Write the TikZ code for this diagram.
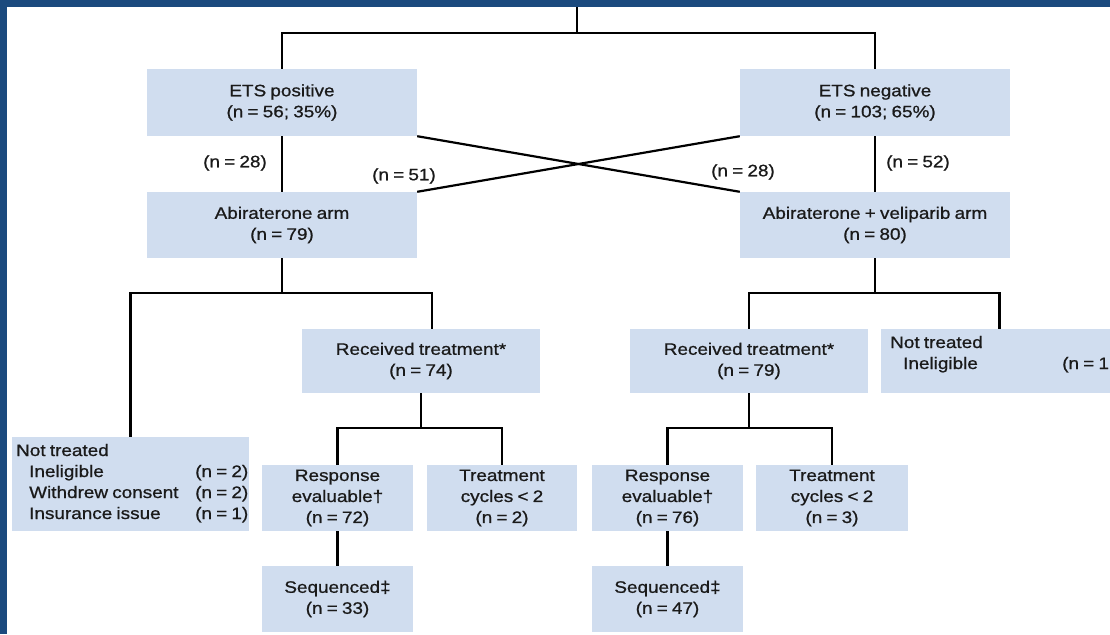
\documentclass[tikz,border=0pt]{standalone}
\usepackage{fontspec}
\setmainfont{Liberation Sans}[FakeStretch=1.14,WordSpace=0.8,FakeBold=0.8]
\definecolor{frameblue}{HTML}{1B4A7E}
\definecolor{boxblue}{HTML}{D0DDEF}
\definecolor{ink}{HTML}{1A1A1A}
\newcommand\fs{\fontsize{16.6}{21}\selectfont}
\newcommand\bx[6]{\node[box, minimum width={#4-#2}, minimum height={#5-#3}] (#1) at ({(#2+#4)/2},{(#3+#5)/2}) {#6};}
\begin{document}
\begin{tikzpicture}[x=1pt,y=-1pt,
  box/.style={fill=boxblue, inner sep=0pt, align=center, font=\fs, text=ink},
  ln/.style={line width=2.8pt, draw=black},
  lab/.style={font=\fs, inner sep=0pt, text=ink}]
\clip (0,0) rectangle (1110,634);
\fill[white] (0,0) rectangle (1110,634);
% boxes
\bx{etspos}{147}{69}{417}{136}{ETS positive\\(n = 56; 35\%)}
\bx{etsneg}{740}{69}{1010}{136}{ETS negative\\(n = 103; 65\%)}
\bx{abi}{147}{192}{417}{258}{Abiraterone arm\\(n = 79)}
\bx{abivel}{740}{192}{1010}{258}{Abiraterone + veliparib arm\\(n = 80)}
\bx{recL}{302}{329}{540}{393}{Received treatment*\\(n = 74)}
\bx{recR}{630}{329}{868}{393}{Received treatment*\\(n = 79)}
\bx{notR}{881}{329}{1120}{393}{}
\bx{notL}{12}{437}{249}{531}{}
\bx{respL}{262}{465}{413}{531}{Response\\evaluable†\\(n = 72)}
\bx{cycL}{427}{465}{577}{531}{Treatment\\cycles < 2\\(n = 2)}
\bx{seqL}{262}{566}{413}{632}{Sequenced‡\\(n = 33)}
\bx{respR}{592}{465}{743}{531}{Response\\evaluable†\\(n = 76)}
\bx{cycR}{756}{465}{908}{531}{Treatment\\cycles < 2\\(n = 3)}
\bx{seqR}{592}{566}{743}{632}{Sequenced‡\\(n = 47)}
% texts in Not treated boxes
\node[lab, anchor=base west] (ntL0) at (16,456) {Not treated};
\node[lab, anchor=base west] (ntL1) at (29,477) {Ineligible};
\node[lab, anchor=base west] (ntL2) at (29,498) {Withdrew consent};
\node[lab, anchor=base west] (ntL3) at (29,519) {Insurance issue};
\node[lab, anchor=base west] (ntL1n) at (195,477) {(n = 2)};
\node[lab, anchor=base west] (ntL2n) at (195,498) {(n = 2)};
\node[lab, anchor=base west] (ntL3n) at (195,519) {(n = 1)};
\node[lab, anchor=base west] (ntR0) at (890,348) {Not treated};
\node[lab, anchor=base west] (ntR1) at (903,369) {Ineligible};
\node[lab, anchor=base west] (ntR1n) at (1062,369) {(n = 1};
% branch labels
\node[lab] (l28a) at (235,163) {(n = 28)};
\node[lab] (l51) at (404,176) {(n = 51)};
\node[lab] (l28b) at (743,172) {(n = 28)};
\node[lab] (l52) at (918,163) {(n = 52)};
% connectors
\coordinate (top) at (577,0);
\coordinate (tj) at (577,33);
\coordinate (b1) at (0,293);
\coordinate (b2) at (0,428);
\draw[ln] (top) -- (tj);
\draw[ln] (etspos.north) -- (etspos.north |- tj) -- (etsneg.north |- tj) -- (etsneg.north);
\draw[ln] (etspos.south) -- (abi.north);
\draw[ln] (etsneg.south) -- (abivel.north);
\draw[ln, line width=2.2pt] (etspos.south east) -- (abivel.north west);
\draw[ln, line width=2.2pt] (etsneg.south west) -- (abi.north east);
\draw[ln] (abi.south) -- (abi.south |- b1);
\draw[ln] (notL.north) -- (notL.north |- b1) -- ([xshift=11pt]recL.north |- b1) -- ([xshift=11pt]recL.north);
\draw[ln] (recL.south) -- (recL.south |- b2);
\draw[ln] (respL.north) -- (respL.north |- b2) -- (cycL.north |- b2) -- (cycL.north);
\draw[ln] (respL.south) -- (seqL.north);
\draw[ln] (abivel.south) -- (abivel.south |- b1);
\draw[ln] (recR.north) -- (recR.north |- b1) -- ([xshift=-1pt]notR.north |- b1) -- ([xshift=-1pt]notR.north);
\draw[ln] (recR.south) -- (recR.south |- b2);
\draw[ln] (respR.north) -- (respR.north |- b2) -- (cycR.north |- b2) -- (cycR.north);
\draw[ln] (respR.south) -- (seqR.north);
% frame
\fill[frameblue] (0,0) rectangle (1110,7);
\fill[frameblue] (0,0) rectangle (7,634);
\end{tikzpicture}
\end{document}
